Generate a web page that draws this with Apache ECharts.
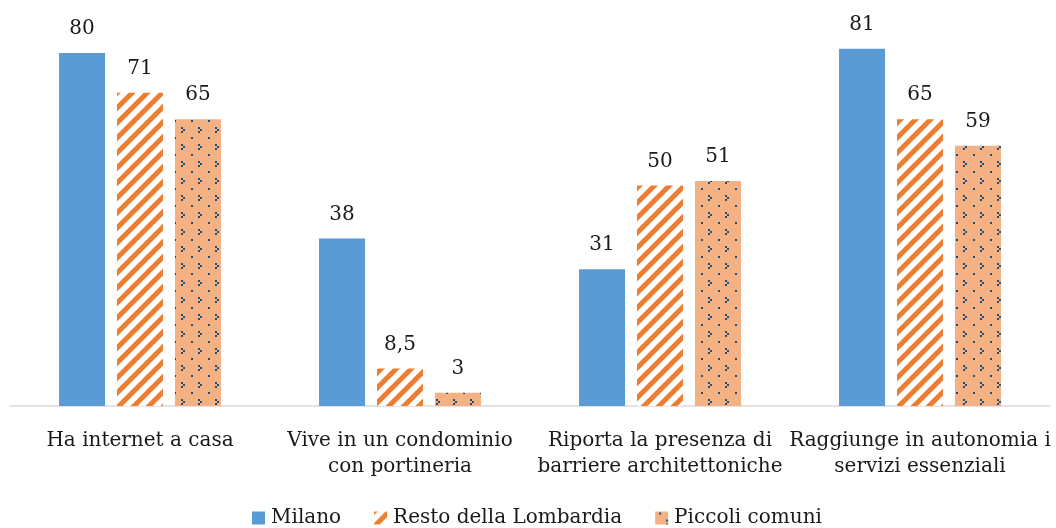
<!DOCTYPE html>
<html lang="it" style="height: 100%">

<head>
    <meta charset="utf-8">
    <script type="text/javascript" src="https://cdn.jsdelivr.net/npm/echarts@6/dist/echarts.min.js"></script>
</head>

<body style="height: 100%; margin: 0; background: #fff">
    <div id="container" style="width: 1056px; height: 528px"></div>
    <script type="text/javascript">
        var categories = [
            'Ha internet a casa',
            'Vive in un condominio\ncon portineria',
            'Riporta la presenza di\nbarriere architettoniche',
            'Raggiunge in autonomia i\nservizi essenziali'
        ];
        var seriesNames = ['Milano', 'Resto della Lombardia', 'Piccoli comuni'];
        var milano = [80, 38, 31, 81];
        var restoLombardia = [71, 8.5, 50, 65];
        var piccoliComuni = [65, 3, 51, 59];

        var fontFamily = '"DejaVu Serif", "Liberation Serif", serif';

        // upward diagonal orange stripes on white
        function stripeTile() {
            var s = 15;
            var c = document.createElement('canvas');
            c.width = s; c.height = s;
            var ctx = c.getContext('2d');
            ctx.fillStyle = '#ffffff';
            ctx.fillRect(0, 0, s, s);
            ctx.strokeStyle = '#ED7D31';
            ctx.lineWidth = 5;
            ctx.beginPath();
            for (var k = -1; k <= 1; k++) {
                ctx.moveTo(-s, 2 * s + k * s);
                ctx.lineTo(2 * s, -s + k * s);
            }
            ctx.stroke();
            return c;
        }

        // peach background with small dark blue dots
        function dotTile() {
            var c = document.createElement('canvas');
            c.width = 17; c.height = 17;
            var ctx = c.getContext('2d');
            ctx.fillStyle = '#F4B183';
            ctx.fillRect(0, 0, 17, 17);
            ctx.fillStyle = '#1F4E79';
            ctx.fillRect(4, 1, 2, 2);
            ctx.fillRect(11, 8, 2, 2);
            ctx.fillRect(13, 10, 2, 2);
            ctx.fillRect(11, 12, 2, 2);
            return c;
        }

        var stripes = { image: stripeTile(), repeat: 'repeat' };
        var dots = { image: dotTile(), repeat: 'repeat' };

        var dom = document.getElementById('container');
        var chart = echarts.init(dom, null, { renderer: 'canvas' });

        function barLabel() {
            return {
                show: true,
                position: 'top',
                distance: 14,
                color: '#1a1a1a',
                fontFamily: fontFamily,
                fontSize: 20,
                formatter: function (p) {
                    return String(p.value).replace('.', ',');
                }
            };
        }

        var option = {
            animation: false,
            backgroundColor: '#ffffff',
            grid: { left: 10, right: 6, top: 9, bottom: 122, containLabel: false },
            legend: {
                bottom: 0,
                left: 247,
                padding: [5, 5, 0, 5],
                icon: 'rect',
                itemWidth: 13,
                itemHeight: 13,
                itemGap: 33,
                textStyle: { color: '#1a1a1a', fontFamily: fontFamily, fontSize: 20, padding: [0, 0, 0, 1] },
                data: seriesNames
            },
            xAxis: {
                type: 'category',
                data: categories,
                axisLine: { lineStyle: { color: '#D9D9D9', width: 1.5 } },
                axisTick: { show: false },
                axisLabel: {
                    interval: 0,
                    margin: 22,
                    color: '#1a1a1a',
                    fontFamily: fontFamily,
                    fontSize: 20,
                    lineHeight: 26
                }
            },
            yAxis: {
                type: 'value',
                min: 0,
                max: 90,
                show: false,
                splitLine: { show: false }
            },
            series: [
                {
                    name: seriesNames[0], type: 'bar', data: milano,
                    barWidth: 46, barGap: '26%',
                    itemStyle: { color: '#5B9BD5' },
                    label: barLabel()
                },
                {
                    name: seriesNames[1], type: 'bar', data: restoLombardia,
                    barWidth: 46, barGap: '26%',
                    itemStyle: { color: stripes },
                    label: barLabel()
                },
                {
                    name: seriesNames[2], type: 'bar', data: piccoliComuni,
                    barWidth: 46, barGap: '26%',
                    itemStyle: { color: dots },
                    label: barLabel()
                }
            ]
        };
        chart.setOption(option);
    </script>
</body>

</html>
